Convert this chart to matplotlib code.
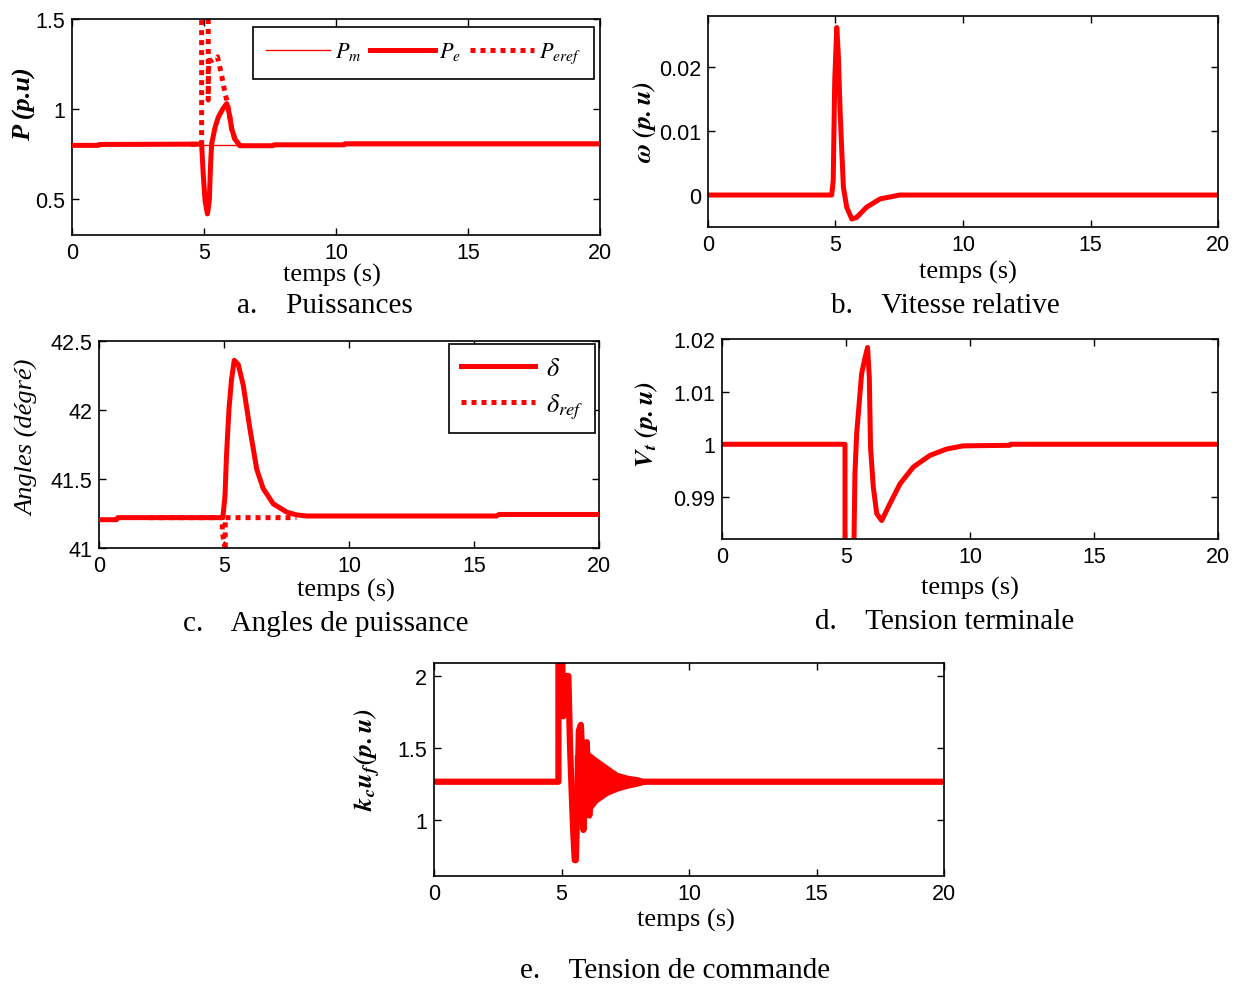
import matplotlib
matplotlib.use("Agg")
import matplotlib.pyplot as plt

plt.rcParams['font.family'] = ['Liberation Sans', 'DejaVu Sans']
plt.rcParams['mathtext.fontset'] = 'stix'

RED = '#ff0000'

# a. Puissances
t_pm = [0, 20]
pm = [0.8, 0.8]
t_pe = [0, 1.0, 1.05, 4.91, 4.97, 5.04, 5.13, 5.20, 5.25, 5.29, 5.42, 5.54, 5.71, 5.86,
        5.96, 6.05, 6.17, 6.36, 7.6, 7.65, 10.3, 10.35, 20]
pe = [0.798, 0.798, 0.803, 0.805, 0.64, 0.49, 0.417, 0.49, 0.694, 0.806, 0.898, 0.954, 1.0, 1.03,
      0.972, 0.889, 0.833, 0.796, 0.796, 0.801, 0.801, 0.807, 0.807]
# reference power, only the part that is not hidden under P_e
t_peref = [4.5, 4.91, 4.91, 5.16, 5.16, 5.18, 5.3, 5.51, 5.65, 5.78, 5.86, 5.96, 6.05, 6.17, 6.36]
peref = [0.804, 0.804, 1.7, 1.7, 1.05, 1.27, 1.27, 1.29, 1.2, 1.1, 1.05, 0.972, 0.889, 0.833, 0.796]

# b. Vitesse relative
t_w = [0, 4.85, 4.91, 4.97, 5.05, 5.11, 5.18, 5.24, 5.31, 5.44, 5.64, 5.83, 6.22, 6.75, 7.27, 7.5, 20]
w = [0, 0, 0.0022, 0.0179, 0.0262, 0.022, 0.0132, 0.0075, 0.0012, -0.0019, -0.00375, -0.0035,
     -0.0019, -0.0006, -0.0002, 0, 0]

# c. Angles de puissance
t_delta = [0, 0.7, 0.75, 4.95, 4.97, 5.04, 5.1, 5.2, 5.3, 5.41, 5.57, 5.77, 6.04, 6.31, 6.57,
           6.97, 7.51, 7.9, 8.3, 15.9, 16.0, 20]
delta = [41.205, 41.205, 41.22, 41.22, 41.25, 41.38, 41.67, 42.01, 42.22, 42.36, 42.33, 42.18,
         41.86, 41.57, 41.43, 41.32, 41.26, 41.24, 41.232, 41.232, 41.243, 41.243]
t_dref = [2.0, 4.93, 4.93, 5.05, 5.05, 7.9]
dref = [41.22, 41.22, 41.12, 40.98, 41.22, 41.22]

# d. Tension terminale
t_vt = [0, 4.96, 4.96, 5.26, 5.36, 5.43, 5.54, 5.63, 5.77, 5.87, 5.94, 5.99, 6.10, 6.24, 6.44,
        6.77, 7.18, 7.72, 8.39, 9.06, 9.73, 11.6, 11.65, 20]
vt = [1.0, 1.0, 0.96, 0.96, 0.9944, 1.002, 1.0083, 1.0134, 1.0165, 1.0184, 1.0127, 0.9994, 0.9919,
      0.9868, 0.9855, 0.9887, 0.9925, 0.9957, 0.9979, 0.9991, 0.9997, 0.9998, 1.0, 1.0]

# e. Tension de commande
t_kc = [0, 4.88, 4.88, 5.02, 5.07, 5.12, 5.18, 5.27, 5.33, 5.40, 5.46, 5.52, 5.56, 5.62, 5.68,
        5.76, 5.80, 5.86, 5.92, 5.99, 6.04, 6.09, 6.15, 6.5, 8.0, 20]
kc = [1.265, 1.265, 2.2, 2.2, 1.72, 1.95, 2.0, 2.0, 1.54, 1.19, 0.92, 0.72, 0.72, 1.08, 1.62,
      1.66, 1.5, 0.93, 1.2, 1.54, 1.3, 1.03, 1.3, 1.27, 1.265, 1.265]
t_env = [5.5, 5.8, 6.1, 6.4, 6.8, 7.2, 7.6, 8.0, 8.3]
env_hi = [1.45, 1.48, 1.47, 1.43, 1.38, 1.33, 1.31, 1.30, 1.28]
env_lo = [1.10, 1.06, 1.05, 1.12, 1.17, 1.20, 1.22, 1.235, 1.25]

xticks = [0, 5, 10, 15, 20]

W, H = 1241, 987
fig = plt.figure(figsize=(W / 100, H / 100), dpi=100)


def box(x0, x1, ytop, ybot):
    return [x0 / W, 1 - ybot / H, (x1 - x0) / W, (ybot - ytop) / H]


def style(ax, ylim, yticks, yticklabels):
    ax.set_xlim(0, 20)
    ax.set_ylim(*ylim)
    ax.set_xticks(xticks)
    ax.set_yticks(yticks)
    ax.set_yticklabels(yticklabels)
    ax.tick_params(direction='in', length=5, width=1, top=True, right=True,
                   labelsize=15.5, pad=5)
    for s in ax.spines.values():
        s.set_linewidth(1.2)


def caption(xc, yc, text, size=20):
    fig.text(xc / W, 1 - yc / H, text, ha='center', va='center',
             family='Liberation Serif', fontsize=size)


def ylab(xc, yc, text, **kw):
    fig.text(xc / W, 1 - yc / H, text, ha='center', va='center', rotation=90,
             family='Liberation Serif', fontsize=19, **kw)


# a
ax = fig.add_axes(box(72, 600, 20, 236))
ax.plot(t_peref, peref, color=RED, lw=3.6, linestyle=(0, (1, 1)), dash_capstyle='butt',
        label='$P_{eref}$', zorder=2)
ax.plot(t_pe, pe, color=RED, lw=3.6, label='$P_e$', zorder=3)
ax.plot(t_pm, pm, color=RED, lw=1, label='$P_m$', zorder=4)
style(ax, (0.3, 1.5), [0.5, 1, 1.5], ['0.5', '1', '1.5'])
h, l = ax.get_legend_handles_labels()
leg = ax.legend([h[2], h[1], h[0]], [l[2], l[1], l[0]], loc='upper right',
                bbox_to_anchor=(0.989, 0.963), ncol=3, fontsize=16,
                handlelength=2.9, columnspacing=0.4, handletextpad=0.2, borderaxespad=0,
                fancybox=False, framealpha=1, borderpad=0.6)
leg.get_frame().set_edgecolor('black')
leg.get_frame().set_linewidth(1.2)
ylab(24, 104, 'P (p.u)', style='italic', weight='bold')
caption(332, 275, 'temps (s)', 19)
caption(325, 306, 'a.    Puissances', 21)

# b
ax = fig.add_axes(box(708, 1218, 17, 228))
ax.plot(t_w, w, color=RED, lw=3.6)
style(ax, (-0.005, 0.028), [0, 0.01, 0.02], ['0', '0.01', '0.02'])
ylab(644, 122, r'$\mathbfit{\omega\ (p.u)}$')
caption(968, 272, 'temps (s)', 19)
caption(945, 306, 'b.    Vitesse relative', 21)

# c
ax = fig.add_axes(box(99, 599, 342, 549))
ax.plot(t_dref, dref, color=RED, lw=3.6, linestyle=(0, (1, 1)), dash_capstyle='butt',
        label=r'$\delta_{ref}$', zorder=2)
ax.plot(t_delta, delta, color=RED, lw=3.6, label=r'$\delta$', zorder=3)
style(ax, (41, 42.5), [41, 41.5, 42, 42.5], ['41', '41.5', '42', '42.5'])
h, l = ax.get_legend_handles_labels()
leg = ax.legend([h[1], h[0]], [l[1], l[0]], loc='upper right', bbox_to_anchor=(0.992, 0.985),
                fontsize=19, handlelength=2.8, handletextpad=0.4, borderaxespad=0,
                labelspacing=0.45, fancybox=False, framealpha=1, borderpad=0.45)
leg.get_frame().set_edgecolor('black')
leg.get_frame().set_linewidth(1.2)
ylab(28, 438, 'Angles (dégré)', style='italic')
caption(346, 590, 'temps (s)', 19)
caption(326, 624, 'c.    Angles de puissance', 21)

# d
ax = fig.add_axes(box(722, 1218, 340, 540))
ax.plot(t_vt, vt, color=RED, lw=3.6)
style(ax, (0.982, 1.02), [0.99, 1.0, 1.01, 1.02], ['0.99', '1', '1.01', '1.02'])
ylab(646, 425, r'$\mathbfit{V_t\ (p.u)}$')
caption(970, 588, 'temps (s)', 19)
caption(945, 622, 'd.    Tension terminale', 21)

# e
ax = fig.add_axes(box(434, 944, 664, 877))
ax.fill_between(t_env, env_lo, env_hi, color=RED, lw=0)
ax.plot(t_kc, kc, color=RED, lw=4.5)
style(ax, (0.61, 2.09), [1, 1.5, 2], ['1', '1.5', '2'])
ylab(368, 760, r'$\mathbfit{k_c u_f (p.u)}$')
caption(686, 920, 'temps (s)', 19)
caption(675, 971, 'e.    Tension de commande', 21)

fig.savefig('out.png', dpi=100)
